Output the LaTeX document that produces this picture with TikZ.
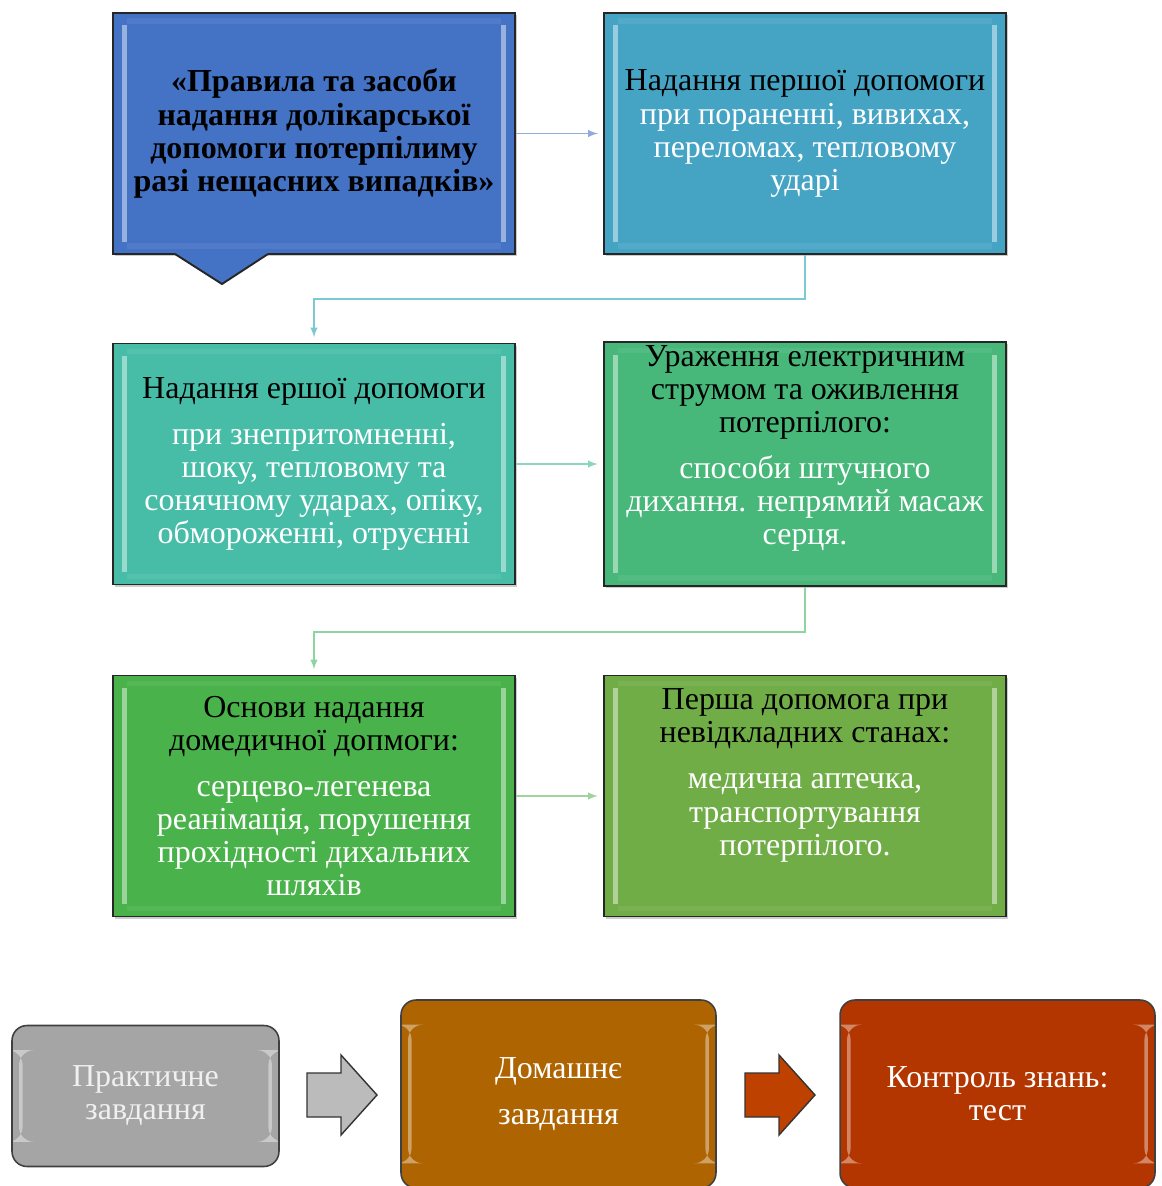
\documentclass[tikz,border=0pt]{standalone}
\usepackage{fontspec}
\setmainfont{Liberation Serif}
\usetikzlibrary{shadows}

\definecolor{rulesblue}{HTML}{4472C4}
\definecolor{woundsteal}{HTML}{45A3C4}
\definecolor{faintteal}{HTML}{47BDA8}
\definecolor{shockgreen}{HTML}{47B77A}
\definecolor{basicsgreen}{HTML}{4AB24A}
\definecolor{urgentgreen}{HTML}{70AD47}
\definecolor{practgray}{HTML}{A5A5A5}
\definecolor{homeorange}{HTML}{AE6400}
\definecolor{testred}{HTML}{B33600}
\definecolor{linkblue}{HTML}{8FAADC}
\definecolor{linkteal}{HTML}{7EC8D4}
\definecolor{linkmint}{HTML}{8ED5C0}
\definecolor{linkgreen}{HTML}{8CD4A2}
\definecolor{linklime}{HTML}{9FD49F}

\newcommand\stagetitle[1]{\textcolor{black}{#1}}

\tikzset{
  bevel/.style={path picture={
      \fill[white,opacity=.45] ([xshift=5pt,yshift=-7pt]path picture bounding box.north west) rectangle ([xshift=8pt,yshift=7pt]path picture bounding box.south west);
      \fill[white,opacity=.45] ([xshift=-8pt,yshift=-7pt]path picture bounding box.north east) rectangle ([xshift=-5pt,yshift=7pt]path picture bounding box.south east);
      \fill[white,opacity=.07] ([xshift=8pt,yshift=-3pt]path picture bounding box.north west) rectangle ([xshift=-8pt,yshift=-6pt]path picture bounding box.north east);
      \fill[white,opacity=.07] ([xshift=8pt,yshift=3pt]path picture bounding box.south west) rectangle ([xshift=-8pt,yshift=6pt]path picture bounding box.south east);}},
  taskbevel/.style={path picture={
      \fill[white,opacity=.4] ([xshift=4pt,yshift=-14pt]path picture bounding box.north west) rectangle ([xshift=6pt,yshift=14pt]path picture bounding box.south west);
      \fill[white,opacity=.4] ([xshift=-6pt,yshift=-14pt]path picture bounding box.north east) rectangle ([xshift=-4pt,yshift=14pt]path picture bounding box.south east);}},
  stage/.style={draw=black!85, line width=1.1pt, minimum width=8.04cm, minimum height=4.82cm,
    align=center, inner sep=2pt, text=white, font=\fontsize{18.2}{18.8}\selectfont, bevel,
    drop shadow={shadow xshift=1.2pt, shadow yshift=-1.2pt, opacity=.4}},
  task/.style={draw=black!75, line width=0.9pt, rounded corners=0.3cm, align=center,
    text=white, font=\fontsize{18.2}{18.8}\selectfont, taskbevel},
  link/.style={-latex, line width=0.9pt, shorten >=3pt},
  blockarrow/.style={draw=black!80, line width=0.8pt}
}

\begin{document}
\begin{tikzpicture}[x=0.02cm, y=-0.02cm]
        \useasboundingbox (0,0) rectangle (1161,1186);

        \node[stage, fill=rulesblue, text=black, font=\fontsize{18.2}{18.8}\selectfont\bfseries] (rules) at (314,133.5)
          {«Правила та засоби\\надання долікарської\\допомоги потерпілиму\\разі нещасних випадків»};
        \fill[rulesblue] (175,252) -- (175,254) -- (222,284) -- (268,254) -- (268,252) -- cycle;
        \draw[black!85, line width=1.1pt] (175,254) -- (222,284) -- (268,254);

        \node[stage, fill=woundsteal] (wounds) at (805,133.5)
          {\stagetitle{Надання першої допомоги}\\при пораненні, вивихах,\\переломах, тепловому\\ударі};

        \node[stage, fill=faintteal] (faint) at (314,464)
          {\stagetitle{Надання ершої допомоги}\\[7.4pt]при знепритомненні,\\шоку, тепловому та\\сонячному ударах, опіку,\\обмороженні, отруєнні};

        \node[stage, fill=shockgreen] (shock) at (805,464)
          {\stagetitle{Ураження електричним}\\\stagetitle{струмом та оживлення}\\\stagetitle{потерпілого:}\\[7.4pt]способи штучного\\дихання. непрямий масаж\\серця.\\[2.5pt]\mbox{}};

        \node[stage, fill=basicsgreen] (basics) at (314,796)
          {\stagetitle{Основи надання}\\\stagetitle{домедичної допмоги:}\\[7.4pt]серцево-легенева\\реанімація, порушення\\прохідності дихальних\\шляхів};

        \node[stage, fill=urgentgreen] (urgent) at (805,796)
          {\stagetitle{Перша допомога при}\\\stagetitle{невідкладних станах:}\\[7.4pt]медична аптечка,\\транспортування\\потерпілого.\\[8.5pt]\mbox{}};

        \draw[link, linkblue] (rules) -- (wounds);
        \draw[link, linkteal] (wounds.south) -- ++(0,44) -| (faint.north);
        \draw[link, linkmint] (faint) -- (shock);
        \draw[link, linkgreen] (shock.south) -- ++(0,45) -| (basics.north);
        \draw[link, linklime] (basics) -- (urgent);

        \node[task, fill=practgray, text=white!94!black, minimum width=5.34cm, minimum height=2.82cm] (practice) at (145.5,1096)
          {Практичне\\завдання};
        \node[task, fill=homeorange, minimum width=6.3cm, minimum height=3.76cm] (homework) at (558.5,1094)
          {Домашнє\\[7.4pt]завдання};
        \node[task, fill=testred, minimum width=6.3cm, minimum height=3.76cm] (test) at (997.5,1094)
          {Контроль знань:\\тест};

        \filldraw[blockarrow, fill=practgray!75] (307,1073) -- (341,1073) -- (341,1055) -- (377,1095) -- (341,1135) -- (341,1117) -- (307,1117) -- cycle;
        \filldraw[blockarrow, fill=testred!85!orange] (745,1073) -- (779,1073) -- (779,1055) -- (815,1095) -- (779,1135) -- (779,1117) -- (745,1117) -- cycle;
\end{tikzpicture}
\end{document}
